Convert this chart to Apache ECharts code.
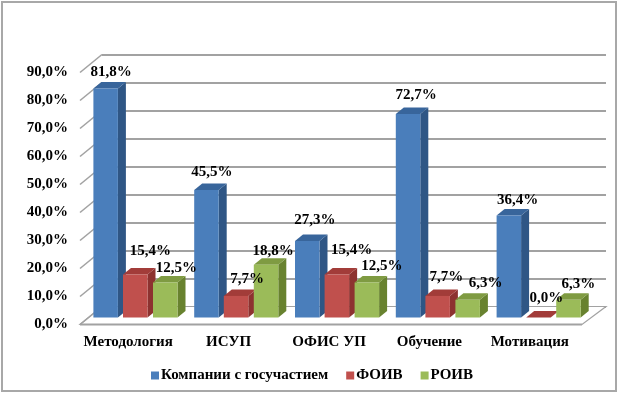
<!DOCTYPE html>
<html><head><meta charset="utf-8">
<style>html,body{margin:0;padding:0;background:#fff}#c{width:618px;height:394px}</style>
<script src="https://cdn.jsdelivr.net/npm/echarts@6/dist/echarts.min.js"></script>
</head><body><div id="c"></div>
<script>
const categories = ['Методология','ИСУП','ОФИС УП','Обучение','Мотивация'];
const seriesNames = ['Компании с госучастием','ФОИВ','РОИВ'];
const companies = [81.8,45.5,27.3,72.7,36.4];
const foiv = [15.4,7.7,15.4,7.7,0.0];
const roiv = [12.5,18.8,12.5,6.3,6.3];
const yTicks = [0,10,20,30,40,50,60,70,80,90];

const FONT = '"Liberation Serif","Times New Roman",serif';
const fmt = v => v.toFixed(1).replace('.',',') + '%';
const GRID = '#a2a2a2';
const depthX = 8, depthY = 6.5, frontDY = 11, barW = 24.5;
const wallDX = 22, wallDY = 18;

const looks = [
  {front:'#4a7ebb', side:'#2f5685', top:'#38659b', shift:-59,
    labelDX:[5.5,5.5,7.5,8,8.7], labelLift:[10,11.6,14.6,12.4,9]},
  {front:'#c0504d', side:'#8d3230', top:'#a23c39', shift:-29.4,
    labelDX:[15,11,14.7,8.7,8], labelLift:[17,10.4,18,12.4,13]},
  {front:'#9bbb59', side:'#68822f', top:'#7f9b42', shift:0.6,
    labelDX:[11,7,15,18,10], labelLift:[8,7.4,10,10.4,9.4]}
];

function barRender(look){
  return function(params, api){
    const i = api.value(0), v = api.value(1);
    const c = api.coord([i, v]), b = api.coord([i, 0]);
    const x = c[0] + look.shift, yTop = c[1] + frontDY, yBot = b[1] + frontDY, r = x + barW;
    const poly = (pts, fill) => ({type:'polygon', shape:{points:pts}, style:{fill:fill, stroke:null}});
    return {type:'group', children:[
      poly([[r,yTop],[r+depthX,yTop-depthY],[r+depthX,yBot-depthY],[r,yBot]], look.side),
      poly([[x,yTop],[x+depthX,yTop-depthY],[r+depthX,yTop-depthY],[r,yTop]], look.top),
      {type:'rect', shape:{x:x,y:yTop,width:barW,height:Math.max(yBot-yTop,0)}, style:{fill:look.front, stroke:null}}
    ]};
  };
}
function labelRender(look){
  return function(params, api){
    const i = api.value(0), v = api.value(1);
    const c = api.coord([i, v]);
    return {type:'text', style:{
      x:c[0] + look.shift + barW/2 + look.labelDX[i],
      y:c[1] + frontDY - depthY - look.labelLift[i],
      text:fmt(v), font:'bold 15px '+FONT, fill:'#000', align:'center', verticalAlign:'middle'}};
  };
}
function wallRender(params, api){
  const v = api.value(0);
  const p = api.coord([0, v]);
  const x = api.coord([0,0])[0] - api.size([1,0])[0]/2;
  return {type:'line', shape:{x1:x-wallDX,y1:p[1]+wallDY,x2:x,y2:p[1]},
    style:{stroke:GRID,lineWidth:1.6}};
}
function floorRender(params, api){
  const b = api.coord([0,0]), w = api.size([1,0])[0];
  const L = b[0]-w/2, R = L + w*categories.length, y = b[1];
  return {type:'group', children:[
    {type:'polygon', shape:{points:[[L,y],[R,y],[R-wallDX-2,y+wallDY],[L-wallDX,y+wallDY]]},
      style:{fill:'#fff',stroke:GRID,lineWidth:1.2}},
    {type:'line', shape:{x1:L-wallDX,y1:y+wallDY,x2:R-wallDX-2,y2:y+wallDY}, style:{stroke:GRID,lineWidth:2}}
  ]};
}

const values = [companies, foiv, roiv];
const asData = arr => arr.map((v,i)=>[i,v]);
const series = [
  {type:'custom', name:'floor', xAxisIndex:0, yAxisIndex:0, z:2, silent:true, clip:false,
    renderItem:floorRender, data:[[0]], encode:{x:0}},
  {type:'custom', name:'wall', xAxisIndex:0, yAxisIndex:0, z:2, silent:true, clip:false,
    renderItem:wallRender, data:yTicks.map(v=>[v]), encode:{y:0}}
];
seriesNames.forEach((n,k)=>series.push({type:'custom', name:n, xAxisIndex:0, yAxisIndex:0, z:5, clip:false,
  itemStyle:{color:looks[k].front}, renderItem:barRender(looks[k]), data:asData(values[k]), encode:{x:0,y:1}}));
seriesNames.forEach((n,k)=>series.push({type:'custom', name:n+' подпись', xAxisIndex:0, yAxisIndex:0, z:10, clip:false, silent:true,
  renderItem:labelRender(looks[k]), data:asData(values[k]), encode:{x:0,y:1}}));

const chart = echarts.init(document.getElementById('c'), null, {renderer:'canvas'});
chart.setOption({
  animation:false, backgroundColor:'#fff',
  graphic:[
    {type:'rect', shape:{x:2,y:2,width:614,height:389}, style:{fill:'none',stroke:'#a8a8a8',lineWidth:2}, z:0}
  ],
  legend:{data:seriesNames, left:146, top:363, icon:'rect', itemWidth:8, itemHeight:8, itemGap:18,
    textStyle:{fontFamily:FONT,fontWeight:'bold',fontSize:15,color:'#000',padding:[0,0,0,-3]}},
  grid:[
    {left:102, top:54.5, width:504, height:252},
    {left:78, top:72.5, width:502, height:252}
  ],
  xAxis:[
    {type:'category', gridIndex:0, data:categories, axisLine:{show:false}, axisTick:{show:false}, axisLabel:{show:false}},
    {type:'category', gridIndex:1, data:categories, axisLine:{show:false}, axisTick:{show:false},
      axisLabel:{interval:0, margin:10, fontFamily:FONT, fontWeight:'bold', fontSize:15, color:'#000'}}
  ],
  yAxis:[
    {type:'value', gridIndex:0, min:0, max:90, interval:10, axisLine:{show:false}, axisTick:{show:false}, axisLabel:{show:false},
      splitLine:{show:true, lineStyle:{color:GRID,width:2}}},
    {type:'value', gridIndex:1, min:0, max:90, interval:10, axisLine:{show:false}, axisTick:{show:false}, splitLine:{show:false},
      axisLabel:{margin:10, formatter:fmt, fontFamily:FONT, fontWeight:'bold', fontSize:15, color:'#000'}}
  ],
  series:series
});
</script></body></html>
